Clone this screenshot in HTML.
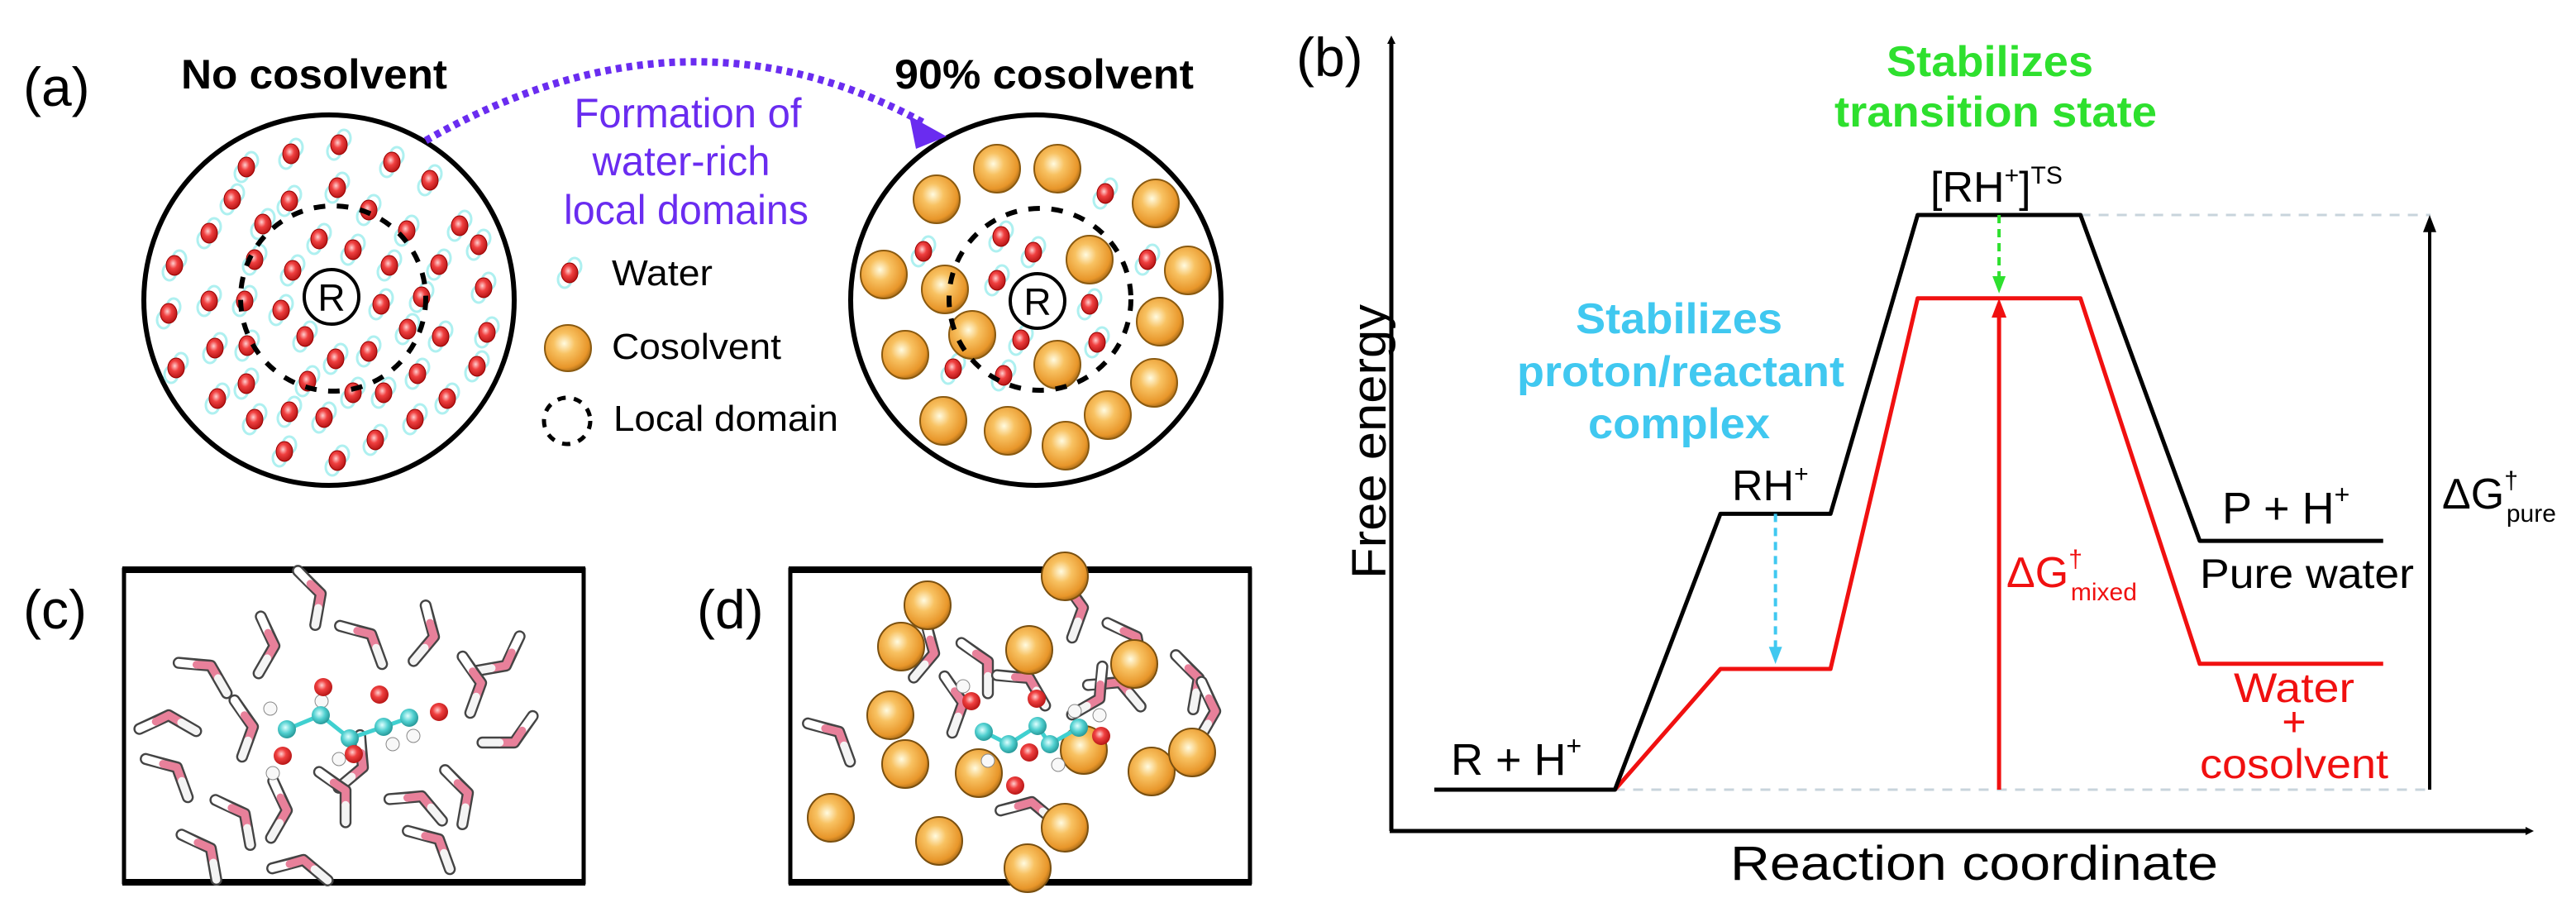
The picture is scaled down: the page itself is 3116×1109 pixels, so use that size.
<!DOCTYPE html>
<html><head><meta charset="utf-8"><style>
html,body{margin:0;padding:0;background:#fff;}
svg{display:block;font-family:"Liberation Sans",sans-serif;}
</style></head><body>
<svg id="fig" width="3116" height="1109" viewBox="0 0 3116 1109" xmlns="http://www.w3.org/2000/svg">
<defs>
<radialGradient id="gOr" cx="0.42" cy="0.4" r="0.65"><stop offset="0" stop-color="#fffbe0"/><stop offset="0.35" stop-color="#f8c262"/><stop offset="0.8" stop-color="#e8962a"/><stop offset="1" stop-color="#9a6215"/></radialGradient>
<radialGradient id="gRed" cx="0.42" cy="0.4" r="0.65"><stop offset="0" stop-color="#ffd0d0"/><stop offset="0.4" stop-color="#f04040"/><stop offset="1" stop-color="#b01010"/></radialGradient>
<radialGradient id="gCy" cx="0.42" cy="0.4" r="0.65"><stop offset="0" stop-color="#e0ffff"/><stop offset="0.5" stop-color="#50d0d0"/><stop offset="1" stop-color="#209090"/></radialGradient>
<marker id="mBlk" markerWidth="10" markerHeight="10" refX="5" refY="5" orient="auto" markerUnits="userSpaceOnUse"><path d="M0,0 L10,5 L0,10 z" fill="#000"/></marker>
</defs>

<!-- Panel a -->
<g>
<text x="28" y="128" font-size="66">(a)</text>
<text x="219" y="107" font-size="50" font-weight="bold" textLength="322" lengthAdjust="spacingAndGlyphs">No cosolvent</text>
<text x="1082" y="107" font-size="50" font-weight="bold" textLength="362" lengthAdjust="spacingAndGlyphs">90% cosolvent</text>
<circle cx="398" cy="363" r="224" fill="none" stroke="#000" stroke-width="6"/>
<circle cx="1253" cy="363" r="224" fill="none" stroke="#000" stroke-width="6"/>
<g id="watersL"></g>
<g id="watersR"></g>
<g id="sphR"></g>
<circle cx="403" cy="361" r="112" fill="none" stroke="#000" stroke-width="6" stroke-dasharray="14 14"/>
<circle cx="1258" cy="362" r="110" fill="none" stroke="#000" stroke-width="6" stroke-dasharray="14 14"/>
<circle cx="401" cy="359" r="33" fill="#fff" stroke="#000" stroke-width="4"/>
<text x="401" y="376" font-size="46" text-anchor="middle">R</text>
<circle cx="1255" cy="364" r="33" fill="#fff" stroke="#000" stroke-width="4"/>
<text x="1255" y="381" font-size="46" text-anchor="middle">R</text>
<path d="M515,170 Q830,-10 1120,150" fill="none" stroke="#6a2cf0" stroke-width="9" stroke-dasharray="7 6"/>
<path d="M1100,140 L1145,165 L1108,180 Z" fill="#6a2cf0"/>
<g fill="#6a2cf0" font-size="50" text-anchor="middle">
<text x="832" y="154" textLength="275" lengthAdjust="spacingAndGlyphs">Formation of</text>
<text x="824" y="212" textLength="215" lengthAdjust="spacingAndGlyphs">water-rich</text>
<text x="830" y="271" textLength="296" lengthAdjust="spacingAndGlyphs">local domains</text>
</g>
<g>
<g id="legW"></g>
<text x="740" y="345" font-size="44" textLength="122" lengthAdjust="spacingAndGlyphs">Water</text>
<ellipse cx="687" cy="421" rx="28" ry="28" fill="url(#gOr)" stroke="#8a5a10" stroke-width="2"/>
<text x="740" y="434" font-size="44" textLength="205" lengthAdjust="spacingAndGlyphs">Cosolvent</text>
<circle cx="686" cy="509" r="28" fill="none" stroke="#000" stroke-width="5" stroke-dasharray="10 10"/>
<text x="742" y="521" font-size="44" textLength="272" lengthAdjust="spacingAndGlyphs">Local domain</text>
</g>
</g>

<!-- Panels c, d -->
<g>
<text x="28" y="760" font-size="66">(c)</text>
<rect x="150" y="689" width="556" height="378" fill="none" stroke="#000" stroke-width="5"/>
<line x1="148" y1="689" x2="708" y2="689" stroke="#000" stroke-width="8"/>
<line x1="148" y1="1067" x2="708" y2="1067" stroke="#000" stroke-width="8"/>
<g id="molC"></g>
</g>
<g>
<text x="843" y="760" font-size="66">(d)</text>
<rect x="956" y="689" width="556" height="378" fill="none" stroke="#000" stroke-width="5"/>
<line x1="954" y1="689" x2="1514" y2="689" stroke="#000" stroke-width="8"/>
<line x1="954" y1="1067" x2="1514" y2="1067" stroke="#000" stroke-width="8"/>
<g id="molD"></g>
</g>

<!-- Panel b -->
<g id="pb">
<text x="1568" y="92" font-size="66">(b)</text>
<line x1="1683" y1="1005" x2="1683" y2="48" stroke="#000" stroke-width="5" marker-end="url(#mBlk)"/>
<line x1="1681" y1="1005" x2="3060" y2="1005" stroke="#000" stroke-width="5" marker-end="url(#mBlk)"/>
<text transform="translate(1676,534) rotate(-90)" font-size="58" text-anchor="middle" textLength="332" lengthAdjust="spacingAndGlyphs">Free energy</text>
<text x="2388" y="1064" font-size="58" text-anchor="middle" textLength="590" lengthAdjust="spacingAndGlyphs">Reaction coordinate</text>
<g id="profiles"></g>
<g>
<text x="2407" y="92" font-size="52" font-weight="bold" fill="#2ee02e" text-anchor="middle" textLength="250" lengthAdjust="spacingAndGlyphs">Stabilizes</text>
<text x="2414" y="153" font-size="52" font-weight="bold" fill="#2ee02e" text-anchor="middle" textLength="390" lengthAdjust="spacingAndGlyphs">transition state</text>
<text x="2031" y="403" font-size="52" font-weight="bold" fill="#40c8f0" text-anchor="middle" textLength="250" lengthAdjust="spacingAndGlyphs">Stabilizes</text>
<text x="2033" y="467" font-size="52" font-weight="bold" fill="#40c8f0" text-anchor="middle" textLength="396" lengthAdjust="spacingAndGlyphs">proton/reactant</text>
<text x="2031" y="530" font-size="52" font-weight="bold" fill="#40c8f0" text-anchor="middle" textLength="220" lengthAdjust="spacingAndGlyphs">complex</text>
<text x="2335" y="244" font-size="52">[RH<tspan font-size="30" dy="-22">+</tspan><tspan dy="22">]</tspan><tspan font-size="30" dy="-22">TS</tspan></text>
<text x="2095" y="605" font-size="52">RH<tspan font-size="30" dy="-22">+</tspan></text>
<text x="1755" y="937" font-size="54">R + H<tspan font-size="32" dy="-24">+</tspan></text>
<text x="2688" y="633" font-size="54">P + H<tspan font-size="32" dy="-24">+</tspan></text>
<text x="2661" y="711" font-size="50" textLength="259" lengthAdjust="spacingAndGlyphs">Pure water</text>
<text x="2775" y="849" font-size="50" fill="#f01010" text-anchor="middle" textLength="146" lengthAdjust="spacingAndGlyphs">Water</text>
<text x="2775" y="890" font-size="50" fill="#f01010" text-anchor="middle">+</text>
<text x="2775" y="941" font-size="50" fill="#f01010" text-anchor="middle" textLength="228" lengthAdjust="spacingAndGlyphs">cosolvent</text>
<text x="2427" y="710" font-size="52" fill="#f01010">ΔG<tspan font-size="30" dy="-24">†</tspan><tspan font-size="30" dx="-14" dy="40">mixed</tspan></text>
<text x="2954" y="615" font-size="52">ΔG<tspan font-size="30" dy="-24">†</tspan><tspan font-size="30" dx="-14" dy="40">pure</tspan></text>
</g>
</g>
<script>
// ---- Energy profile data (panel b) ----
const states = ["R + H+", "RH+", "[RH+]TS", "P + H+"];
const pureEnergy = [0, 0.48, 1.0, 0.433];
const mixedEnergy = [0, 0.21, 0.855, 0.219];
const plateauStart = [3.75, 28.7, 45.9, 70.5];   // reaction-coordinate units
const plateauEnd = [19.5, 38.3, 60.1, 86.5];

const NS = "http://www.w3.org/2000/svg";
const xS = u => 1683 + u * 13.87;
const yS = e => 955 - e * 695;
function mk(tag, attrs, parent) {
  const el = document.createElementNS(NS, tag);
  for (const k in attrs) el.setAttribute(k, attrs[k]);
  parent.appendChild(el);
  return el;
}
const prof = document.getElementById("profiles");
let ref1 = mk("line", {x1: xS(plateauEnd[2]), y1: yS(pureEnergy[2]), x2: 2940, y2: yS(pureEnergy[2]), stroke: "#c8d4dc", "stroke-width": 3, "stroke-dasharray": "12 10"}, prof);


let ref2 = mk("line", {x1: xS(plateauEnd[0]), y1: yS(0), x2: 2940, y2: yS(0), stroke: "#c8d4dc", "stroke-width": 3, "stroke-dasharray": "12 10"}, prof);



function profilePts(en, startIdx) {
  const pts = [];
  for (let i = startIdx; i < states.length; i++) {
    pts.push(xS(plateauStart[i]) + "," + yS(en[i]));
    pts.push(xS(plateauEnd[i]) + "," + yS(en[i]));
  }
  return pts;
}
const mixedPts = [xS(plateauEnd[0]) + "," + yS(mixedEnergy[0])].concat(profilePts(mixedEnergy, 1));
let redL = mk("polyline", {points: mixedPts.join(" "), fill: "none", stroke: "#f01010", "stroke-width": 5, "stroke-linejoin": "round"}, prof);


let blkL = mk("polyline", {points: profilePts(pureEnergy, 0).join(" "), fill: "none", stroke: "#000", "stroke-width": 5, "stroke-linejoin": "round"}, prof);



function arrow(x, y1, y2, color, dash, w, head) {
  const g = mk("g", {}, prof);
  const dir = y2 > y1 ? 1 : -1;
  const l = mk("line", {x1: x, y1: y1, x2: x, y2: y2 - dir * head, stroke: color, "stroke-width": w}, g);
  if (dash) l.setAttribute("stroke-dasharray", dash);
  mk("path", {d: `M${x - head * 0.5},${y2 - dir * head * 1.3} L${x},${y2} L${x + head * 0.5},${y2 - dir * head * 1.3} Z`, fill: color}, g);
  return g;
}
const tsX = xS((plateauStart[2] + plateauEnd[2]) / 2);
const rhX = xS((plateauStart[1] + plateauEnd[1]) / 2);
let a1 = arrow(tsX, yS(pureEnergy[2]), yS(mixedEnergy[2]) - 6, "#2ee02e", "10 7", 4, 16);


let a2 = arrow(rhX, yS(pureEnergy[1]), yS(mixedEnergy[1]) - 6, "#40c8f0", "10 7", 4, 16);


let a3 = arrow(tsX, yS(0), yS(mixedEnergy[2]), "#f01010", null, 5, 18);


let a4 = arrow(2939, yS(0), yS(pureEnergy[2]), "#000", null, 4, 16);



// ---- Panel a decorative molecules ----
function water(parent, x, y) {
  const g = mk("g", {}, parent);
  mk("ellipse", {cx: x - 6, cy: y + 8, rx: 8, ry: 10, fill: "none", stroke: "#aef0f0", "stroke-width": 3}, g);
  mk("ellipse", {cx: x + 6, cy: y - 8, rx: 8, ry: 10, fill: "none", stroke: "#aef0f0", "stroke-width": 3}, g);
  mk("ellipse", {cx: x, cy: y, rx: 10, ry: 12, fill: "url(#gRed)", stroke: "#900", "stroke-width": 1}, g);
  return g;
}
const wL = [[352,186],[410,175],[474,196],[298,202],[520,218],[408,227],[281,241],[350,243],[446,254],[556,273],[318,271],[253,282],[492,279],[386,289],[427,302],[579,296],[211,321],[308,314],[354,327],[471,321],[531,320],[585,348],[253,364],[296,364],[204,379],[340,375],[461,368],[510,359],[493,398],[589,402],[369,407],[533,407],[260,421],[299,418],[446,425],[406,434],[213,445],[505,452],[577,443],[298,464],[372,461],[464,475],[427,475],[263,482],[541,482],[308,507],[350,498],[392,505],[502,507],[454,532],[344,546],[408,557]];
const gL = document.getElementById("watersL");
for (const p of wL) {
  const w = water(gL, p[0], p[1]);
  
  
}
const wR = [[1337,234],[1211,286],[1250,305],[1117,304],[1388,314],[1206,339],[1318,368],[1235,411],[1327,414],[1153,446],[1214,454]];
const gR = document.getElementById("watersR");
for (const p of wR) {
  const w = water(gR, p[0], p[1]);
  
  
}
const lw = water(document.getElementById("legW"), 689, 330);
const sR = [[1206,204],[1279,204],[1133,241],[1398,246],[1069,332],[1143,350],[1318,314],[1437,327],[1403,389],[1095,429],[1176,405],[1279,441],[1396,463],[1141,509],[1219,521],[1340,502],[1289,539]];
const gS = document.getElementById("sphR");
for (const p of sR) {
  const s = mk("ellipse", {cx: p[0], cy: p[1], rx: 28, ry: 29, fill: "url(#gOr)", stroke: "#8a5a10", "stroke-width": 2}, gS);
  
  
}

// ---- Panels c, d ----
function stick(parent, x, y, ang) {
  const g = mk("g", {transform: `translate(${x},${y}) rotate(${ang}) scale(1.6)`}, parent);
  mk("polyline", {points: "-20,-14 0,0 0,24", fill: "none", stroke: "#444", "stroke-width": 9, "stroke-linecap": "round", "stroke-linejoin": "round"}, g);
  mk("polyline", {points: "-20,-14 -9,-6", fill: "none", stroke: "#fff", "stroke-width": 6, "stroke-linecap": "round"}, g);
  mk("polyline", {points: "-9,-6 0,0 0,11", fill: "none", stroke: "#e8809a", "stroke-width": 6, "stroke-linecap": "round", "stroke-linejoin": "round"}, g);
  mk("polyline", {points: "0,11 0,24", fill: "none", stroke: "#f4f4f4", "stroke-width": 6, "stroke-linecap": "round"}, g);
  return g;
}
function solute(parent, pts, oxy, hyd) {
  const g = mk("g", {}, parent);
  mk("polyline", {points: pts.map(p => p.join(",")).join(" "), fill: "none", stroke: "#40d0d0", "stroke-width": 5}, g);
  for (const h of hyd) mk("circle", {cx: h[0], cy: h[1], r: 8, fill: "#f8f8f8", stroke: "#888", "stroke-width": 1}, g);
  for (const p of pts) mk("circle", {cx: p[0], cy: p[1], r: 11, fill: "url(#gCy)"}, g);
  for (const o of oxy) mk("circle", {cx: o[0], cy: o[1], r: 11, fill: "url(#gRed)"}, g);
  return g;
}
const molC = document.getElementById("molC");
const wc = [[388,718,10],[449,767,-20],[332,781,30],[525,770,40],[255,805,-30],[612,805,80],[582,826,20],[204,865,-60],[306,879,20],[214,928,-20],[439,928,50],[418,956,0],[510,963,-40],[566,959,10],[296,984,-10],[347,980,30],[255,1026,-10],[367,1040,-50],[531,1015,-20],[622,898,90]];
for (const p of wc) {
  const s = stick(molC, p[0], p[1], p[2]);
  
  
}
const solC = solute(molC, [[347,882],[388,865],[423,893],[464,879],[495,868]], [[391,831],[342,914],[531,861],[459,840],[428,912]], [[327,857],[389,848],[330,935],[475,900],[500,890],[410,918]]);



const molD = document.getElementById("molD");
const wd = [[1310,735,20],[1375,770,-10],[1130,790,40],[1195,800,0],[1245,820,-30],[1355,825,-40],[1450,820,10],[1470,860,30],[1015,885,-20],[1165,850,20],[1330,845,60],[1248,970,-50]];
for (const p of wd) {
  const s = stick(molD, p[0], p[1], p[2]);
  
  
}
const sD = [[1288,697],[1122,732],[1090,782],[1245,786],[1372,803],[1077,865],[1095,924],[1184,935],[1311,907],[1393,933],[1442,910],[1005,989],[1136,1017],[1288,1001],[1243,1050]];
for (const p of sD) {
  const s = mk("ellipse", {cx: p[0], cy: p[1], rx: 28, ry: 29, fill: "url(#gOr)", stroke: "#7a5010", "stroke-width": 2}, molD);
  
  
}
const solD = solute(molD, [[1190,885],[1220,900],[1255,878],[1270,900],[1305,880]], [[1175,848],[1254,845],[1245,910],[1332,890],[1228,950]], [[1165,830],[1195,920],[1300,860],[1330,865],[1280,925]]);


</script>
</svg>
</body></html>
